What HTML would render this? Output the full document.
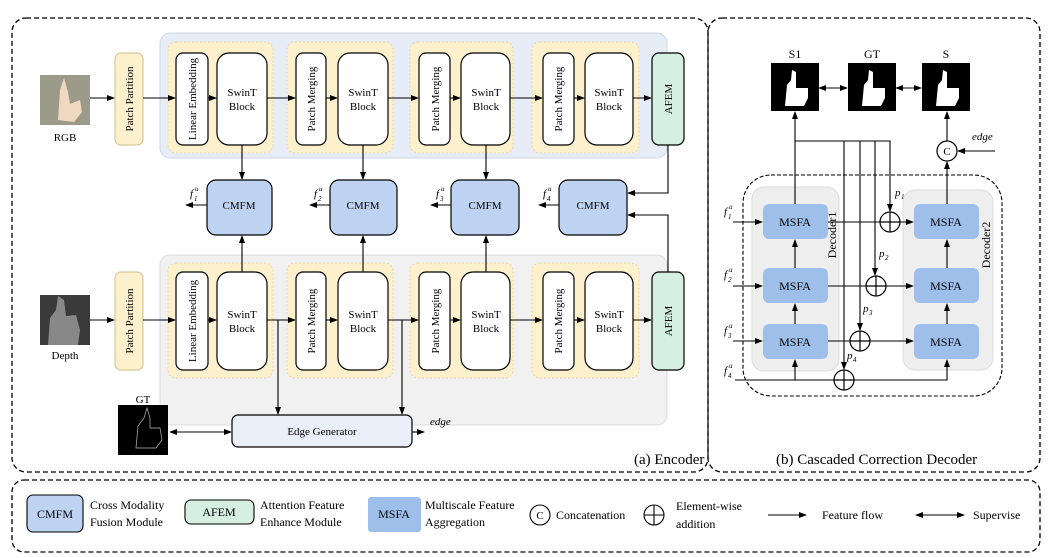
<!DOCTYPE html>
<html><head><meta charset="utf-8"><style>
html,body{margin:0;padding:0;background:#fff;}
svg{display:block;font-family:"Liberation Serif",serif;}
</style></head><body>
<svg width="1049" height="558" viewBox="0 0 1049 558" xmlns="http://www.w3.org/2000/svg">
<defs>
<marker id="a" markerWidth="8" markerHeight="8" refX="7" refY="4" orient="auto" markerUnits="userSpaceOnUse"><path d="M0,1 L8,4 L0,7 z" fill="#000"/></marker>
<marker id="s" markerWidth="8" markerHeight="8" refX="1" refY="4" orient="auto" markerUnits="userSpaceOnUse"><path d="M8,1 L0,4 L8,7 z" fill="#000"/></marker>
</defs>
<g fill="none" stroke="#000" stroke-width="1.3" stroke-dasharray="5,3">
<rect x="12" y="18" width="696" height="454" rx="14"/>
<rect x="708" y="18" width="332" height="454" rx="14"/>
<rect x="12" y="480" width="1028" height="72" rx="12"/>
</g>

<rect x="160" y="33" width="507" height="125" rx="10" fill="#e7edf6" stroke="#cfd8e6"/>
<rect x="160" y="255" width="507" height="170" rx="10" fill="#f1f1f1" stroke="#dcdcdc"/>
<g fill="#fdf0cc" stroke="#e8d8a8" stroke-dasharray="2,2">
<rect x="168" y="42" width="105" height="111" rx="8"/><rect x="287" y="42" width="106" height="111" rx="8"/><rect x="410" y="42" width="103" height="111" rx="8"/><rect x="532" y="42" width="107" height="111" rx="8"/>
<rect x="168" y="263" width="105" height="115" rx="8"/><rect x="287" y="263" width="106" height="115" rx="8"/><rect x="410" y="263" width="103" height="115" rx="8"/><rect x="532" y="263" width="107" height="115" rx="8"/>
</g>
<g stroke="#000" stroke-width="1.2">
<rect x="115" y="53" width="28" height="92" rx="6" fill="#fdf0cc" stroke="#d8c89a"/>
<rect x="115" y="272" width="28" height="98" rx="6" fill="#fdf0cc" stroke="#d8c89a"/>
<g fill="#fff">
<rect x="176" y="53" width="32" height="92" rx="7"/><rect x="217" y="53" width="50" height="92" rx="12"/>
<rect x="296" y="53" width="30" height="92" rx="7"/><rect x="338" y="53" width="50" height="92" rx="12"/>
<rect x="419" y="53" width="31" height="92" rx="7"/><rect x="461" y="53" width="49" height="92" rx="12"/>
<rect x="543" y="53" width="31" height="92" rx="7"/><rect x="585" y="53" width="48" height="92" rx="12"/>
<rect x="176" y="272" width="32" height="98" rx="7"/><rect x="217" y="272" width="50" height="98" rx="12"/>
<rect x="296" y="272" width="30" height="98" rx="7"/><rect x="338" y="272" width="50" height="98" rx="12"/>
<rect x="419" y="272" width="31" height="98" rx="7"/><rect x="461" y="272" width="49" height="98" rx="12"/>
<rect x="543" y="272" width="31" height="98" rx="7"/><rect x="585" y="272" width="48" height="98" rx="12"/>
</g>
<rect x="652" y="53" width="32" height="92" rx="7" fill="#d6efe3"/>
<rect x="652" y="272" width="32" height="98" rx="7" fill="#d6efe3"/>
<g fill="#bed3f2">
<rect x="207" y="180" width="65" height="55" rx="9"/><rect x="330" y="180" width="67" height="55" rx="9"/><rect x="451" y="180" width="68" height="55" rx="9"/><rect x="559" y="180" width="68" height="55" rx="9"/>
</g>
<rect x="232" y="415" width="180" height="32" rx="6" fill="#e9eef8"/>
</g>

<rect x="40" y="75" width="50" height="50" fill="#9c9a88"/>
<path d="M58,120 L60,90 L64,78 L68,92 L70,104 L80,100 L82,112 L74,122 Z" fill="#f0d8c0"/>
<rect x="40" y="295" width="50" height="50" fill="#3a3a3a"/>
<path d="M48,345 L50,318 L56,310 L58,296 L64,300 L66,316 L76,315 L80,330 L78,345 Z" fill="#888"/>
<rect x="118" y="405" width="50" height="50" fill="#000"/>
<path d="M136,448 L138,426 L144,418 L147,408 L150,418 L150,428 L160,428 L162,440 L156,448 Z" fill="none" stroke="#bbb" stroke-width="0.7"/>

<g font-size="11" text-anchor="middle">
<text x="65" y="141">RGB</text><text x="65" y="359">Depth</text><text x="143" y="403">GT</text>
<text x="242" y="96">SwinT</text><text x="242" y="110">Block</text>
<text x="363" y="96">SwinT</text><text x="363" y="110">Block</text>
<text x="486" y="96">SwinT</text><text x="486" y="110">Block</text>
<text x="609" y="96">SwinT</text><text x="609" y="110">Block</text>
<text x="242" y="318">SwinT</text><text x="242" y="332">Block</text>
<text x="363" y="318">SwinT</text><text x="363" y="332">Block</text>
<text x="486" y="318">SwinT</text><text x="486" y="332">Block</text>
<text x="609" y="318">SwinT</text><text x="609" y="332">Block</text>
<text x="239" y="209">CMFM</text><text x="363" y="209">CMFM</text><text x="485" y="209">CMFM</text><text x="593" y="209">CMFM</text>
<text x="322" y="435">Edge Generator</text>
</g>
<g font-size="11" text-anchor="middle">
<text transform="translate(133,99) rotate(-90)">Patch Partition</text>
<text transform="translate(196,99) rotate(-90)">Linear Embedding</text>
<text transform="translate(315,99) rotate(-90)">Patch Merging</text>
<text transform="translate(439,99) rotate(-90)">Patch Merging</text>
<text transform="translate(562,99) rotate(-90)">Patch Merging</text>
<text transform="translate(672,99) rotate(-90)">AFEM</text>
<text transform="translate(133,321) rotate(-90)">Patch Partition</text>
<text transform="translate(196,321) rotate(-90)">Linear Embedding</text>
<text transform="translate(315,321) rotate(-90)">Patch Merging</text>
<text transform="translate(439,321) rotate(-90)">Patch Merging</text>
<text transform="translate(562,321) rotate(-90)">Patch Merging</text>
<text transform="translate(672,321) rotate(-90)">AFEM</text>
</g>
<g font-size="11" font-style="italic">
<text x="190" y="197">f</text><text x="195" y="191" font-size="7">u</text><text x="194" y="201" font-size="7">1</text>
<text x="314" y="197">f</text><text x="319" y="191" font-size="7">u</text><text x="318" y="201" font-size="7">2</text>
<text x="436" y="197">f</text><text x="441" y="191" font-size="7">u</text><text x="440" y="201" font-size="7">3</text>
<text x="543" y="197">f</text><text x="548" y="191" font-size="7">u</text><text x="547" y="201" font-size="7">4</text>
<text x="430" y="425">edge</text>
</g>
<text x="634" y="464" font-size="15">(a) Encoder</text>

<g stroke="#000" stroke-width="1.1" fill="none" marker-end="url(#a)">
<line x1="90" y1="98" x2="114" y2="98"/><line x1="143" y1="98" x2="175" y2="98"/><line x1="208" y1="98" x2="216" y2="98"/>
<line x1="267" y1="98" x2="295" y2="98"/><line x1="326" y1="98" x2="337" y2="98"/><line x1="388" y1="98" x2="418" y2="98"/>
<line x1="450" y1="98" x2="460" y2="98"/><line x1="510" y1="98" x2="542" y2="98"/><line x1="574" y1="98" x2="584" y2="98"/><line x1="633" y1="98" x2="651" y2="98"/>
<line x1="90" y1="320" x2="114" y2="320"/><line x1="143" y1="320" x2="175" y2="320"/><line x1="208" y1="320" x2="216" y2="320"/>
<line x1="267" y1="320" x2="295" y2="320"/><line x1="326" y1="320" x2="337" y2="320"/><line x1="388" y1="320" x2="418" y2="320"/>
<line x1="450" y1="320" x2="460" y2="320"/><line x1="510" y1="320" x2="542" y2="320"/><line x1="574" y1="320" x2="584" y2="320"/><line x1="633" y1="320" x2="651" y2="320"/>
<line x1="242" y1="145" x2="242" y2="179"/><line x1="363" y1="145" x2="363" y2="179"/><line x1="486" y1="145" x2="486" y2="179"/>
<line x1="242" y1="272" x2="242" y2="236"/><line x1="363" y1="272" x2="363" y2="236"/><line x1="486" y1="272" x2="486" y2="236"/>
<polyline points="668,145 668,193 628,193"/><polyline points="668,272 668,215 628,215"/>
<line x1="207" y1="205" x2="186" y2="205"/><line x1="330" y1="205" x2="310" y2="205"/><line x1="451" y1="205" x2="431" y2="205"/><line x1="559" y1="205" x2="539" y2="205"/>
<line x1="278" y1="320" x2="278" y2="414"/><line x1="402" y1="320" x2="402" y2="414"/>
<line x1="412" y1="432" x2="424" y2="432"/>
<line x1="170" y1="432" x2="231" y2="432" marker-start="url(#s)"/>
</g>

<rect x="743" y="175" width="259" height="221" rx="28" fill="none" stroke="#000" stroke-dasharray="4,2" stroke-width="1.1"/>
<rect x="752" y="187" width="87" height="184" rx="12" fill="#eeeeee" stroke="#ddd"/>
<rect x="903" y="190" width="90" height="180" rx="12" fill="#eeeeee" stroke="#ddd"/>
<g fill="#9dbfea">
<rect x="763" y="204" width="65" height="35" rx="6"/><rect x="763" y="268" width="65" height="35" rx="6"/><rect x="763" y="324" width="65" height="35" rx="6"/>
<rect x="914" y="204" width="65" height="35" rx="6"/><rect x="914" y="268" width="65" height="35" rx="6"/><rect x="914" y="324" width="65" height="35" rx="6"/>
</g>
<g font-size="12" text-anchor="middle">
<text x="795" y="226">MSFA</text><text x="795" y="290">MSFA</text><text x="795" y="346">MSFA</text>
<text x="946" y="226">MSFA</text><text x="946" y="290">MSFA</text><text x="946" y="346">MSFA</text>
<text transform="translate(836,235) rotate(-90)">Decoder1</text>
<text transform="translate(990,245) rotate(-90)">Decoder2</text>
<text x="795" y="58">S1</text><text x="872" y="58">GT</text><text x="946" y="58">S</text>
</g>
<rect x="771" y="63" width="48" height="48" fill="#000"/><rect x="848" y="63" width="48" height="48" fill="#000"/><rect x="922" y="63" width="48" height="48" fill="#000"/>
<g fill="#fff">
<path d="M785,106 L787,85 L791,80 L792,70 L796,72 L796,88 L808,88 L808,98 L804,106 Z"/>
<path d="M862,106 L864,85 L868,80 L869,70 L873,72 L873,88 L885,88 L885,98 L881,106 Z"/>
<path d="M936,106 L938,85 L942,80 L943,70 L947,72 L947,88 L959,88 L959,98 L955,106 Z"/>
</g>
<g stroke="#000" stroke-width="1.2" fill="#fff">
<circle cx="890" cy="222" r="10"/><circle cx="876" cy="286" r="10"/><circle cx="860" cy="341" r="10"/><circle cx="844" cy="380" r="10"/><circle cx="947" cy="151" r="10"/>
</g>
<g stroke="#000" stroke-width="1.2">
<path d="M880,222h20M890,212v20M866,286h20M876,276v20M850,341h20M860,331v20M834,380h20M844,370v20"/>
</g>
<text x="947" y="155" font-size="11" text-anchor="middle">C</text>
<g stroke="#000" stroke-width="1.1" fill="none" marker-end="url(#a)">
<line x1="795" y1="204" x2="795" y2="112"/>
<polyline points="795,141 890,141 890,211"/>
<polyline points="875,141 875,275"/><polyline points="860,141 860,330"/><polyline points="844,141 844,369"/>
<line x1="828" y1="222" x2="913" y2="222"/><line x1="828" y1="286" x2="913" y2="286"/><line x1="828" y1="341" x2="913" y2="341"/>
<line x1="795" y1="268" x2="795" y2="240"/><line x1="795" y1="324" x2="795" y2="304"/>
<line x1="947" y1="268" x2="947" y2="240"/><line x1="947" y1="324" x2="947" y2="304"/>
<polyline points="735,380 947,380 947,360"/><line x1="795" y1="380" x2="795" y2="360"/>
<line x1="947" y1="204" x2="947" y2="162"/><line x1="947" y1="141" x2="947" y2="112"/>
<line x1="995" y1="151" x2="958" y2="151"/>
<line x1="733" y1="222" x2="762" y2="222"/><line x1="733" y1="286" x2="762" y2="286"/><line x1="733" y1="341" x2="762" y2="341"/>
<line x1="819" y1="88" x2="847" y2="88" marker-start="url(#s)"/><line x1="896" y1="88" x2="921" y2="88" marker-start="url(#s)"/>
</g>
<g font-size="11" font-style="italic">
<text x="724" y="215">f</text><text x="729" y="209" font-size="7">u</text><text x="728" y="219" font-size="7">1</text>
<text x="724" y="278">f</text><text x="729" y="272" font-size="7">u</text><text x="728" y="282" font-size="7">2</text>
<text x="724" y="334">f</text><text x="729" y="328" font-size="7">u</text><text x="728" y="338" font-size="7">3</text>
<text x="724" y="374">f</text><text x="729" y="368" font-size="7">u</text><text x="728" y="378" font-size="7">4</text>
<text x="895" y="196">p</text><text x="901" y="199" font-size="7">1</text>
<text x="879" y="257">p</text><text x="885" y="260" font-size="7">2</text>
<text x="863" y="312">p</text><text x="869" y="315" font-size="7">3</text>
<text x="847" y="359">p</text><text x="853" y="362" font-size="7">4</text>
<text x="972" y="140">edge</text>
</g>
<text x="776" y="464" font-size="15">(b) Cascaded Correction Decoder</text>

<rect x="27" y="495" width="56" height="37" rx="6" fill="#bed3f2" stroke="#000" stroke-width="1.1"/>
<rect x="185" y="500" width="69" height="24" rx="6" fill="#d6efe3" stroke="#000" stroke-width="1.1"/>
<rect x="368" y="497" width="53" height="35" rx="3" fill="#9dbfea"/>
<g font-size="12">
<text x="55" y="518" text-anchor="middle">CMFM</text><text x="219" y="516" text-anchor="middle">AFEM</text><text x="394" y="518" text-anchor="middle">MSFA</text>
<text x="90" y="509">Cross Modality</text><text x="90" y="526">Fusion Module</text>
<text x="260" y="509">Attention Feature</text><text x="260" y="526">Enhance Module</text>
<text x="425" y="509">Multiscale Feature</text><text x="425" y="526">Aggregation</text>
<text x="556" y="519">Concatenation</text>
<text x="676" y="510">Element-wise</text><text x="676" y="528">addition</text>
<text x="822" y="519">Feature flow</text><text x="973" y="519">Supervise</text>
</g>
<circle cx="540" cy="515" r="10" fill="none" stroke="#000" stroke-width="1.1"/><text x="540" y="519" font-size="11" text-anchor="middle">C</text>
<circle cx="654" cy="515" r="10" fill="none" stroke="#000" stroke-width="1.1"/><path d="M644,515h20M654,505v20" stroke="#000" stroke-width="1.1"/>
<g stroke="#000" stroke-width="1.1" marker-end="url(#a)">
<line x1="768" y1="515" x2="806" y2="515"/><line x1="916" y1="515" x2="964" y2="515" marker-start="url(#s)"/>
</g>
</svg>
</body></html>
